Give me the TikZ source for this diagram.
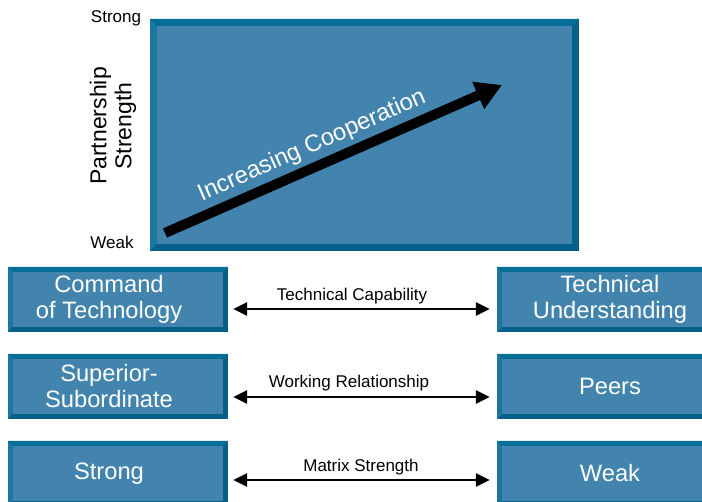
\documentclass[tikz,border=0pt]{standalone}
\usepackage{fontspec}
\setmainfont{Liberation Sans}
\usetikzlibrary{arrows.meta}
\definecolor{face}{RGB}{66,132,174}
\definecolor{bevT}{RGB}{5,110,150}
\definecolor{bevL}{RGB}{28,118,160}
\definecolor{bevB}{RGB}{4,96,136}
\tikzset{
  bev/.style={rectangle, inner sep=0pt, fill=bevB, draw=none,
    path picture={
      \coordinate (ppSW) at (path picture bounding box.south west);
      \coordinate (ppNE) at (path picture bounding box.north east);
      \coordinate (ppNW) at (path picture bounding box.north west);
      \fill[bevT] (ppNW) -- (ppNE) -- ([shift={(-#1,-#1)}]ppNE) -- ([shift={(#1,-#1)}]ppNW) -- cycle;
      \fill[bevL] (ppNW) -- ([shift={(#1,-#1)}]ppNW) -- ([shift={(#1,#1)}]ppSW) -- (ppSW) -- cycle;
      \fill[face] ([shift={(#1,#1)}]ppSW) rectangle ([shift={(-#1,-#1)}]ppNE);
    }},
  btext/.style={text=white, align=center, font=\fontsize{23.7}{26}\selectfont},
  sbox/.style={bev=5pt, minimum height=65pt},
  lbox/.style={sbox, minimum width=220pt},
  rbox/.style={sbox, minimum width=226pt, btext},
  biarr/.style={line width=2.8pt, {Triangle[length=14pt,width=13pt]}-{Triangle[length=14pt,width=13pt]}, shorten <=5pt, shorten >=7pt},
  lab/.style={font=\fontsize{17}{20}\selectfont, inner sep=0pt},
  axis/.style={font=\fontsize{17}{20}\selectfont, inner sep=0pt}
}
\begin{document}
\begin{tikzpicture}[x=1pt,y=-1pt]
\useasboundingbox (0,0) rectangle (702,502);
\clip (0,0) rectangle (702,502);
\fill[white] (0,0) rectangle (702,502);

% main box
\node[bev=7pt, minimum width=429pt, minimum height=232pt] (main) at (364.5,135) {};
\node[axis] (strong) at (116,18) {Strong};
\node[axis] (weak) at (112,242) {Weak};
\node[rotate=90, align=center, inner sep=0pt, font=\fontsize{23}{25}\selectfont] (ps) at (113,126) {Partnership\\Strength};

% big arrow
\coordinate (a0) at (165,233);
\coordinate (a1) at (502,85);
\draw[line width=10pt, -{Triangle[length=26pt,width=28pt]}] (a0) -- (a1);
\node[rotate=23.7, text=white, inner sep=0pt, font=\fontsize{23.8}{26}\selectfont] (coop) at (312,146) {Increasing Cooperation};

% rows
\node[lbox, label={[btext, xshift=-9pt]center:{Command\\of Technology}}] (L1) at (118,299.5) {};
\node[rbox] (R1) at (610,299.5) {Technical\\Understanding};
\node[lbox, label={[btext, xshift=-9pt]center:{Superior-\\Subordinate}}] (L2) at (118,386.5) {};
\node[rbox] (R2) at (610,386.5) {Peers};
\node[lbox, label={[btext, xshift=-9pt]center:{Strong}}] (L3) at (118,473.5) {};
\node[rbox] (R3) at (610,473.5) {Weak};

\draw[biarr] ([yshift=-9.5pt]L1.east) -- ([yshift=-9.5pt]R1.west)
  node[lab, midway, yshift=13pt, xshift=-10.5pt] {Technical Capability};
\draw[biarr] ([yshift=-10.5pt]L2.east) -- ([yshift=-10.5pt]R2.west)
  node[lab, midway, yshift=14pt, xshift=-13.5pt] {Working Relationship};
\draw[biarr] ([yshift=-6.5pt]L3.east) -- ([yshift=-6.5pt]R3.west)
  node[lab, midway, yshift=13pt, xshift=-1.5pt] {Matrix Strength};
\end{tikzpicture}
\end{document}
